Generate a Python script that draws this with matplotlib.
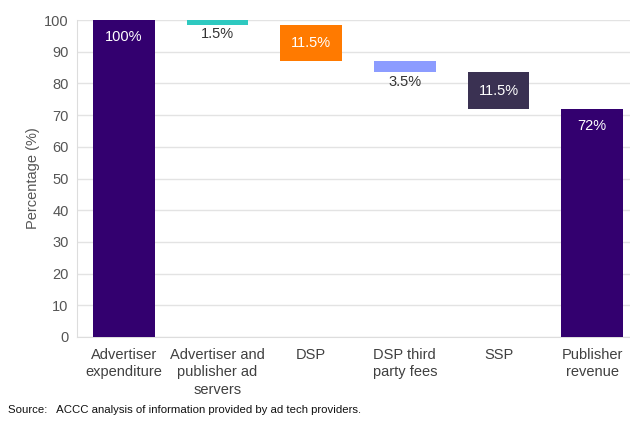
import numpy as np
import matplotlib
matplotlib.use('Agg')
import matplotlib.pyplot as plt

plt.rcParams['font.family'] = ['Liberation Sans', 'DejaVu Sans']

# categories and waterfall values
categories = ['Advertiser\nexpenditure', 'Advertiser and\npublisher ad\nservers', 'DSP',
              'DSP third\nparty fees', 'SSP', 'Publisher\nrevenue']
bottoms = [0, 98.5, 87, 83.5, 72, 0]
heights = [100, 1.5, 11.5, 3.5, 11.5, 72]
labels = ['100%', '1.5%', '11.5%', '3.5%', '11.5%', '72%']
colours = ['#33006f', '#2ec9c0', '#ff7a00', '#8c9cff', '#3a3152', '#33006f']
inside = [True, False, True, False, True, True]

fig = plt.figure(figsize=(6.3, 4.25), dpi=100)
ax = fig.add_axes([77/630, 88/425, 562/630, 317/425])

x = np.arange(len(categories))
ax.bar(x, heights, bottom=bottoms, width=0.66, color=colours, zorder=3)

for i in range(len(x)):
    top = bottoms[i] + heights[i]
    if inside[i]:
        if heights[i] > 20:
            ax.text(x[i], top - 5.5, labels[i], ha='center', va='center', color='white', fontsize=10.5, zorder=4)
        else:
            ax.text(x[i], bottoms[i] + heights[i]/2, labels[i], ha='center', va='center', color='white', fontsize=10.5, zorder=4)
    else:
        ax.text(x[i], bottoms[i] - 0.8, labels[i], ha='center', va='top', color='#333333', fontsize=10.5, zorder=4)

ax.set_xlim(-0.5, len(x) - 0.5)
ax.set_ylim(0, 100)
ax.set_yticks(np.arange(0, 101, 10))
ax.set_xticks(x)
ax.set_xticklabels(categories, fontsize=10.5, color='#404040', linespacing=1.3)
ax.tick_params(axis='y', labelsize=10.5, labelcolor='#555555', length=0, pad=6)
ax.tick_params(axis='x', length=0, pad=8)
ax.grid(axis='y', color='#e3e3e3', linewidth=1, zorder=0)
for s in ['top', 'right']:
    ax.spines[s].set_visible(False)
ax.spines['left'].set_color('#dddddd')
ax.spines['bottom'].set_color('#dddddd')
ax.set_ylabel('Percentage (%)', fontsize=10.5, color='#555555', labelpad=3)

fig.text(8/630, 1 - 410/425, 'Source:   ACCC analysis of information provided by ad tech providers.',
         fontsize=8.2, color='#111111', va='center')

plt.savefig('out.png', dpi=100)
